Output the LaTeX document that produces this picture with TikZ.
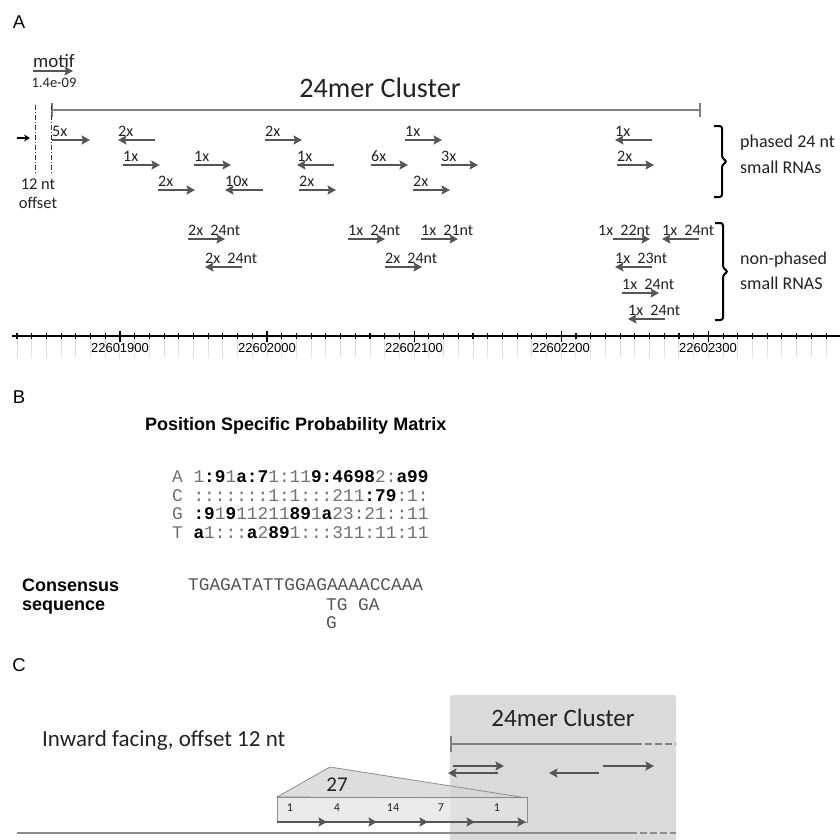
\documentclass[tikz,border=0pt]{standalone}
\usepackage{fontspec}
\setmainfont{Carlito}
\newfontfamily\arialf{Liberation Sans}
\newfontfamily\monof{Liberation Mono}
\usetikzlibrary{arrows.meta}
\definecolor{arr}{HTML}{555555}
\definecolor{txt}{HTML}{222222}
\definecolor{clus}{HTML}{7F7F7F}
\definecolor{mgray}{HTML}{707070}
\definecolor{boxg}{HTML}{DADADA}
\tikzset{
  srna/.style={draw=arr, line width=2.7pt, -{Stealth[length=8.5pt,width=9pt,inset=1.5pt]}},
  lbl/.style={inner sep=0pt, anchor=base west, font=\fontsize{16}{16}\selectfont, text=txt},
  brk/.style={draw=black, line width=2pt, rounded corners=2.5pt},
  side/.style={inner sep=0pt, anchor=west, font=\fontsize{18}{22}\selectfont, text=txt},
  panel/.style={inner sep=0pt, font=\arialf\fontsize{18.5}{18.5}\selectfont},
  axlab/.style={inner sep=0pt, font=\arialf\fontsize{13}{13}\selectfont},
  mat/.style={inner sep=0pt, anchor=west, font=\monof\fontsize{17.8}{18}\selectfont, text=mgray},
  bhead/.style={inner sep=0pt, font=\arialf\bfseries\fontsize{18}{18}\selectfont},
  carr/.style={draw=arr, line width=2.7pt, -{Stealth[length=8.5pt,width=9pt,inset=1.5pt]}},
}
\newcommand\RA[5]{\draw[srna] (#2,#4) -- (#3,#4); \node[lbl] (#1) at (#2,#4-3.5) {#5};}
\newcommand\LA[5]{\draw[srna] (#3,#4) -- (#2,#4); \node[lbl] (#1) at (#2,#4-3.5) {#5};}
\newcommand\bk[1]{\textbf{\color{black}#1}}
\newcommand\npsp{\hspace{0.45em}}
\begin{document}
\begin{tikzpicture}[x=1pt,y=-1pt]
\useasboundingbox (0,0) rectangle (840,839);
% ---------- Panel A ----------
\node[panel] (pA) at (19,22) {A};
\node[inner sep=0pt, font=\fontsize{19}{19}\selectfont, text=txt] (motif) at (54,61) {motif};
\draw[srna] (33,71) -- (73,71);
\node[inner sep=0pt, font=\fontsize{14.5}{14.5}\selectfont, text=txt] (pval) at (54,83) {1.4e-09};
\node[inner sep=0pt, font=\fontsize{28.2}{28.2}\selectfont, text=txt] (clus) at (380,88) {24mer Cluster};
\draw[clus, line width=2.2pt] (52,110) -- (700,110);
\draw[clus, line width=2pt] (52,103) -- (52,117);
\draw[clus, line width=2pt] (700,103) -- (700,117);
\draw[black!80, line width=1pt, dash pattern=on 5pt off 2pt on 1pt off 2pt] (35,105) -- (35,175);
\draw[black!80, line width=1pt, dash pattern=on 5pt off 2pt on 1pt off 2pt] (51,105) -- (51,175);
\draw[black, line width=1.6pt, -{Stealth[length=6pt,width=7pt]}] (17,138) -- (30,138);
\node[inner sep=0pt, font=\fontsize{16.5}{16.5}\selectfont, text=txt] (off1) at (38,184) {12 nt};
\node[inner sep=0pt, font=\fontsize{16.5}{16.5}\selectfont, text=txt] (off2) at (38,203) {offset};
% phased row 1
\RA{p1}{52}{90}{140}{5x}
\LA{p2}{118}{155}{140}{2x}
\RA{p3}{265}{302}{140}{2x}
\RA{p4}{405}{442}{140}{1x}
\LA{p5}{615}{652}{140}{1x}
% row 2
\RA{p6}{123}{160}{165}{1x}
\RA{p7}{194}{231}{165}{1x}
\LA{p8}{297}{334}{165}{1x}
\RA{p9}{371}{408}{165}{6x}
\RA{p10}{441}{478}{165}{3x}
\RA{p11}{617}{654}{165}{2x}
% row 3
\RA{p12}{158}{195}{190}{2x}
\LA{p13}{225}{263}{190}{10x}
\RA{p14}{299}{336}{190}{2x}
\RA{p15}{413}{450}{190}{2x}
% non-phased
\RA{n1}{188}{225}{239}{2x\npsp 24nt}
\LA{n2}{205}{242}{267}{2x\npsp 24nt}
\RA{n3}{348}{385}{239}{1x\npsp 24nt}
\RA{n4}{421}{458}{239}{1x\npsp 21nt}
\RA{n5}{385}{422}{267}{2x\npsp 24nt}
\draw[srna] (613,239) -- (650,239); \node[lbl] (n6) at (598,235.5) {1x\npsp 22nt};
\LA{n7}{662}{699}{239}{1x\npsp 24nt}
\LA{n8}{615}{652}{267}{1x\npsp 23nt}
\RA{n9}{622}{659}{293}{1x\npsp 24nt}
\LA{n10}{628}{665}{319}{1x\npsp 24nt}
% brackets
\draw[brk] (714,126) -- (722,126) -- (722,158) -- (727,161.5) -- (722,165) -- (722,197) -- (714,197);
\node[side] (ph1) at (740,143) {phased 24 nt};
\node[side] (ph2) at (740,167) {small RNAs};
\draw[brk] (715,223) -- (723,223) -- (723,268) -- (728,271.5) -- (723,275) -- (723,320) -- (715,320);
\node[side] (np1) at (740,260) {non-phased};
\node[side] (np2) at (740,283) {small RNAS};
% axis
\foreach \i in {0,...,56} {
  \draw[black!12, line width=1pt] ({17+\i*14.71},338) -- ({17+\i*14.71},358);
  \draw[black, line width=1.1pt] ({17+\i*14.71},333) -- ({17+\i*14.71},339);
}
\foreach \i in {7,17,27,37,47} {
  \draw[black, line width=1.3pt] ({17+\i*14.71},330.5) -- ({17+\i*14.71},342);
}
\draw[black, line width=1.4pt] (12,336) -- (840,336);
\node[axlab] (t1) at (120,348) {22601900};
\node[axlab] (t2) at (267,348) {22602000};
\node[axlab] (t3) at (414,348) {22602100};
\node[axlab] (t4) at (561,348) {22602200};
\node[axlab] (t5) at (708,348) {22602300};
% ---------- Panel B ----------
\node[panel] (pB) at (19,397) {B};
\node[bhead, anchor=west] (psm) at (145,426) {Position Specific Probability Matrix};
\node[mat] (mA) at (172,477) {A 1\bk{:9}1\bk{a:7}1:11\bk{9:4698}2:\bk{a99}};
\node[mat] (mC) at (172,496) {C :::::::1:1:::211\bk{:79}:1:};
\node[mat] (mG) at (172,514) {G \bk{:9}1\bk{9}11211\bk{89}1\bk{a}23:21::11};
\node[mat] (mT) at (172,533) {T \bk{a}1:::\bk{a}2\bk{89}1:::311:11:11};
\node[bhead, anchor=base west] (cons1) at (22,591) {Consensus};
\node[bhead, anchor=base west] (cons2) at (22,610) {sequence};
\node[mat, text=arr] (cs1) at (188,585) {TGAGATATTGGAGAAAACCAAA};
\node[mat, text=arr] (cs2) at (326,605) {TG GA};
\node[mat, text=arr] (cs3) at (326,623) {G};
% ---------- Panel C ----------
\node[panel] (pC) at (19,665) {C};
\fill[boxg, rounded corners=2pt] (450,695) rectangle (676,845);
\node[inner sep=0pt, font=\fontsize{25}{25}\selectfont, text=txt] (clus2) at (563,718) {24mer Cluster};
\node[inner sep=0pt, anchor=west, font=\fontsize{23}{23}\selectfont, text=txt] (inw) at (42,740) {Inward facing, offset 12 nt};
\draw[clus, line width=2.4pt] (451,744) -- (642,744);
\draw[clus, line width=2.4pt, dash pattern=on 7pt off 3pt] (645,744) -- (676,744);
\draw[clus, line width=2pt] (451,736) -- (451,752);
\draw[carr] (453,766) -- (504,766);
\draw[carr] (498,773) -- (448,773);
\draw[carr] (599,773) -- (549,773);
\draw[carr] (603,766) -- (654,766);
% roof and box
\filldraw[fill=black!17, draw=black!45, line width=0.8pt, fill opacity=0.8] (277,797) -- (330,767) -- (527,798) -- cycle;
\node[inner sep=0pt, font=\fontsize{21}{21}\selectfont, text=txt] (n27) at (337,785) {27};
\filldraw[fill=black!11, draw=black!45, line width=0.8pt, fill opacity=0.75] (277,797) rectangle (527,822);
\node[inner sep=0pt, font=\fontsize{12}{12}\selectfont, text=txt] (c1) at (290,808) {1};
\node[inner sep=0pt, font=\fontsize{12}{12}\selectfont, text=txt] (c2) at (337,808) {4};
\node[inner sep=0pt, font=\fontsize{12}{12}\selectfont, text=txt] (c3) at (393,808) {14};
\node[inner sep=0pt, font=\fontsize{12}{12}\selectfont, text=txt] (c4) at (441,808) {7};
\node[inner sep=0pt, font=\fontsize{12}{12}\selectfont, text=txt] (c5) at (497,808) {1};
\draw[carr] (277,822) -- (327,822);
\draw[carr] (322,822) -- (377,822);
\draw[carr] (372,822) -- (428,822);
\draw[carr] (423,822) -- (475,822);
\draw[carr] (470,822) -- (526,822);
\draw[black!45, line width=2.6pt] (17,833) -- (637,833);
\draw[black!45, line width=2.6pt, dash pattern=on 7pt off 3pt] (640,833) -- (676,833);
\end{tikzpicture}
\end{document}
